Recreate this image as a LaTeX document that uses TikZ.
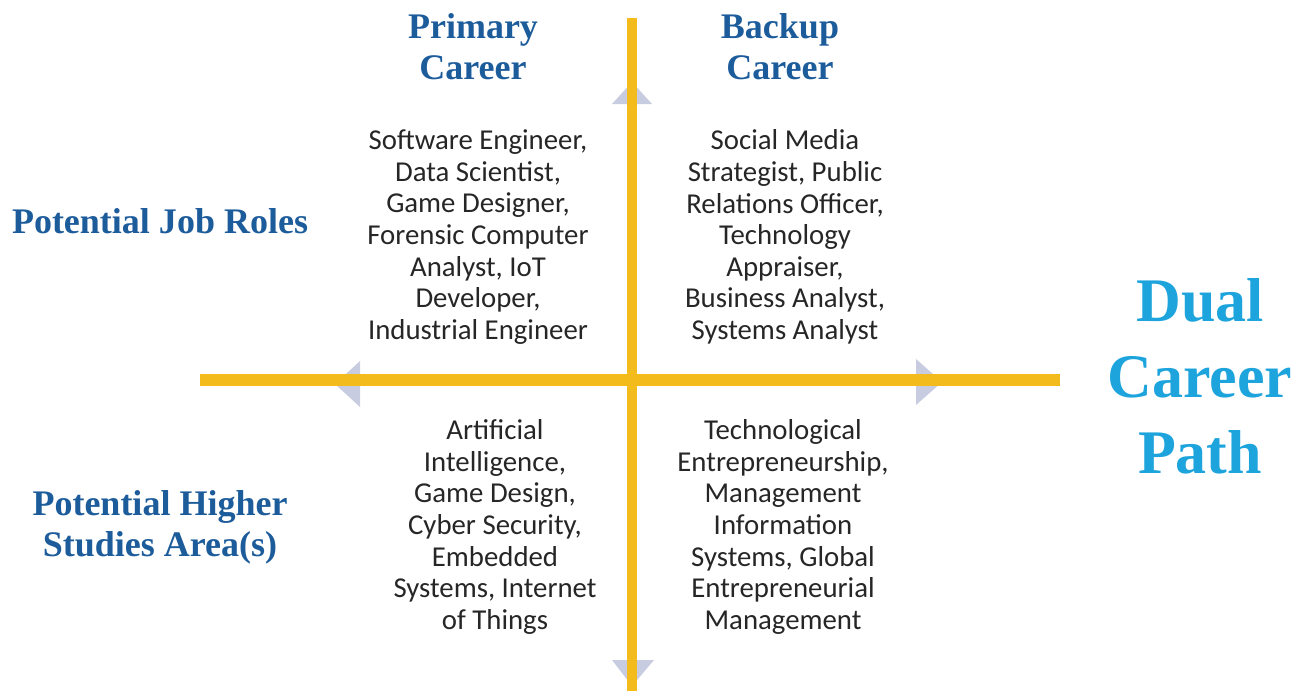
\documentclass[tikz,border=0pt]{standalone}
\usepackage{fontspec}
\setmainfont{Liberation Serif}
\newfontfamily\bodyfont{Carlito}
\definecolor{axisyellow}{HTML}{F4BB1C}
\definecolor{headblue}{HTML}{1D5C9B}
\definecolor{dualblue}{HTML}{1EA4DC}
\definecolor{tipgrey}{HTML}{C8CCE0}
\tikzset{
  head/.style={text=headblue, align=center, font=\bfseries\fontsize{18}{20.5}\selectfont},
  body/.style={text=black!85, align=center, font=\bodyfont\fontsize{14.4}{15.8}\selectfont},
  axis/.style={draw=axisyellow, line cap=butt},
  tip/.style={fill=tipgrey}
}
\begin{document}
\begin{tikzpicture}[x=0.5pt, y=-0.5pt, line join=round]
\useasboundingbox (0,0) rectangle (1310,691);
\path (632,18) coordinate (T)
      (632,691) coordinate (D)
      (200,380) coordinate (L)
      (1060,380) coordinate (R);
% pale arrow heads sitting under the axes
\fill[tip] (632,82) -- (652,104) -- (612,104) -- cycle;
\fill[tip] (632,686) -- (612,660) -- (654,660) -- cycle;
\fill[tip] (335,384) -- (360,361) -- (360,407) -- cycle;
\fill[tip] (942,382) -- (916,359) -- (916,405) -- cycle;
\draw[axis, line width=6pt] (L)--(R);
\draw[axis, line width=5pt] (T)--(D);
% column and row titles
\node[head] (primary) at (473,47) {Primary\\Career};
\node[head] (backup) at (780,47) {Backup\\Career};
\node[head] (roles) at (160,221) {Potential Job Roles};
\node[head] (studies) at (160,527) {Potential Higher\\Studies Area(s)};
\node[text=dualblue, align=center, font=\bfseries\fontsize{31}{38}\selectfont] (dual) at (1200,376) {Dual\\Career\\Path};
% quadrant contents
\node[body] (jobsA) at (478,237) {Software Engineer,\\Data Scientist,\\Game Designer,\\Forensic Computer\\Analyst, IoT\\Developer,\\Industrial Engineer};
\node[body] (jobsB) at (785,237) {Social Media\\Strategist, Public\\Relations Officer,\\Technology\\Appraiser,\\Business Analyst,\\Systems Analyst};
\node[body] (studyA) at (495,527) {Artificial\\Intelligence,\\Game Design,\\Cyber Security,\\Embedded\\Systems, Internet\\of Things};
\node[body] (studyB) at (783,527) {Technological\\Entrepreneurship,\\Management\\Information\\Systems, Global\\Entrepreneurial\\Management};
\end{tikzpicture}
\end{document}
